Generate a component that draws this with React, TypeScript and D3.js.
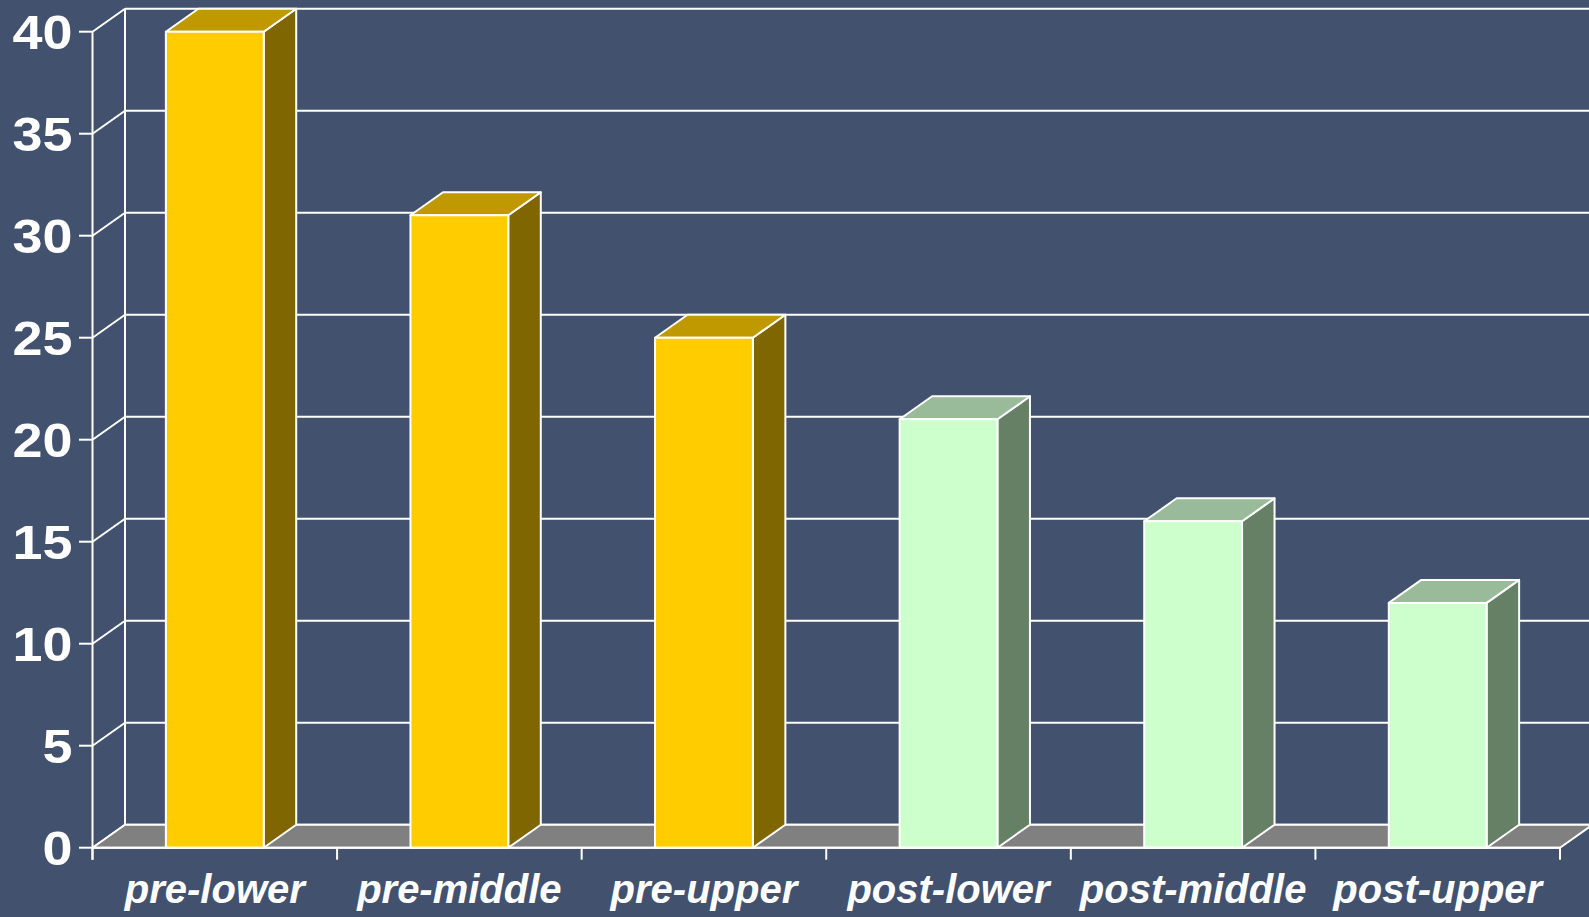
import React from "react";
import * as d3 from "d3";

const categories = ["pre-lower", "pre-middle", "pre-upper", "post-lower", "post-middle", "post-upper"];
const values = [40, 31, 25, 21, 16, 12];
const groups = ["pre", "pre", "pre", "post", "post", "post"];
const yTicks = [0, 5, 10, 15, 20, 25, 30, 35, 40];

const W = 1589;
const H = 917;
const BG = "#42526E";
const palette: Record<string, { front: string; top: string; side: string }> = {
  pre: { front: "#FFCC00", top: "#C09900", side: "#806600" },
  post: { front: "#CCFFCC", top: "#99BB99", side: "#668066" },
};

export default function App() {
  const left = 92.5;
  const right = 1560;
  const dx = 32.5;
  const dy = 23;
  const x = d3.scaleBand<string>().domain(categories).range([left, right]).paddingInner(0.6).paddingOuter(0.3);
  const y = d3.scaleLinear().domain([0, 40]).range([847.7, 31.7]);
  const step = x.step();
  const y0 = y(0);
  const font = "'Liberation Sans', Arial, sans-serif";
  const stroke = "#FFFFFF";
  const sw = 2;

  const boundaries = d3.range(categories.length + 1).map((i) => left + i * step);

  return (
    <svg width={W} height={H} style={{ position: "absolute", left: 0, top: 0, display: "block" }}>
      <rect x={0} y={0} width={W} height={H} fill={BG} />
      {/* back wall gridlines */}
      {yTicks.map((t) => (
        <g key={"g" + t}>
          <line x1={left + dx} x2={W + 5} y1={y(t) - dy} y2={y(t) - dy} stroke={stroke} strokeWidth={sw} />
          <line x1={left} x2={left + dx} y1={y(t)} y2={y(t) - dy} stroke={stroke} strokeWidth={sw} />
        </g>
      ))}
      {/* back wall left vertical */}
      <line x1={left + dx} x2={left + dx} y1={y(40) - dy} y2={y0 - dy} stroke={stroke} strokeWidth={sw} />
      {/* floor */}
      <polygon
        points={`${left},${y0} ${left + dx},${y0 - dy} ${right + dx},${y0 - dy} ${right},${y0}`}
        fill="#808080"
        stroke={stroke}
        strokeWidth={sw}
        strokeLinejoin="round"
      />
      {/* bars */}
      {categories.map((c, i) => {
        const x0 = x(c)!;
        const x1 = x0 + x.bandwidth();
        const yt = y(values[i]);
        const col = palette[groups[i]];
        return (
          <g key={c} stroke={stroke} strokeWidth={sw} strokeLinejoin="round">
            <polygon points={`${x1},${yt} ${x1 + dx},${yt - dy} ${x1 + dx},${y0 - dy} ${x1},${y0}`} fill={col.side} />
            <polygon points={`${x0},${yt} ${x0 + dx},${yt - dy} ${x1 + dx},${yt - dy} ${x1},${yt}`} fill={col.top} />
            <rect x={x0} y={yt} width={x1 - x0} height={y0 - yt} fill={col.front} />
          </g>
        );
      })}
      {/* front axes */}
      <line x1={left} x2={left} y1={y(40)} y2={y0 + 12} stroke={stroke} strokeWidth={sw} />
      <line x1={left} x2={right} y1={y0} y2={y0} stroke={stroke} strokeWidth={sw} />
      {boundaries.map((bx, i) => (
        <line key={"xt" + i} x1={bx} x2={bx} y1={y0} y2={y0 + 12} stroke={stroke} strokeWidth={sw} />
      ))}
      {yTicks.map((t) => (
        <line key={"yt" + t} x1={79} x2={left} y1={y(t)} y2={y(t)} stroke={stroke} strokeWidth={sw} />
      ))}
      {/* y labels */}
      {yTicks.map((t) => (
        <text
          key={"yl" + t}
          transform={`translate(72.5,${y(t) + 17.5}) scale(1.1,1)`}
          textAnchor="end"
          fill="#FFFFFF"
          fontFamily={font}
          fontWeight="bold"
          fontSize={49}
        >
          {t}
        </text>
      ))}
      {/* x labels */}
      {categories.map((c) => (
        <text
          key={"xl" + c}
          x={x(c)! + x.bandwidth() / 2}
          y={903}
          textAnchor="middle"
          fill="#FFFFFF"
          fontFamily={font}
          fontWeight="bold"
          fontStyle="italic"
          fontSize={40}
        >
          {c}
        </text>
      ))}
    </svg>
  );
}
